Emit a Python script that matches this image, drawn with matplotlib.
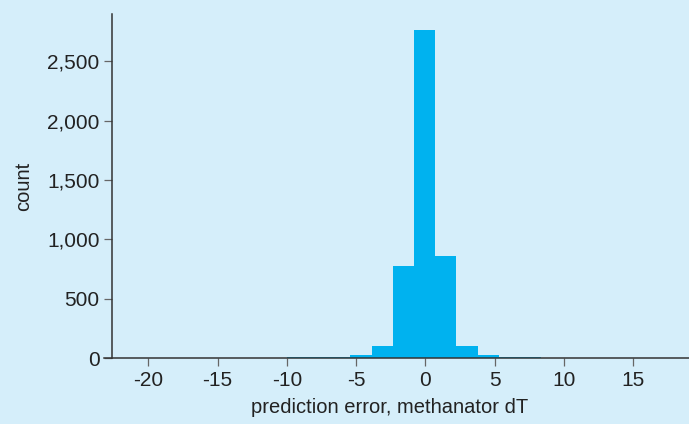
import numpy as np
import matplotlib.pyplot as plt

# histogram of prediction errors
bin_edges = [-9.99, -8.46, -6.93, -5.41, -3.88, -2.35, -0.82, 0.71, 2.24, 3.77, 5.29, 6.82, 8.35]
counts = [8, 6, 9, 25, 101, 775, 2762, 858, 101, 25, 9, 6]

x_ticks = [-20, -15, -10, -5, 0, 5, 10, 15]
y_ticks = [0, 500, 1000, 1500, 2000, 2500]
y_tick_labels = ["0", "500", "1,000", "1,500", "2,000", "2,500"]

bg = "#d5eefa"
bar_color = "#00b2ef"
axis_color = "#333333"

plt.rcParams['font.family'] = ['Liberation Sans', 'DejaVu Sans']
plt.rcParams['axes.unicode_minus'] = False

W, H = 689, 424
fig = plt.figure(figsize=(W / 100, H / 100), dpi=100, facecolor=bg)
ax = fig.add_axes([104 / W, (H - 358) / H, 1 - 104 / W, (358 - 14) / H])
ax.set_facecolor(bg)

edges = np.array(bin_edges)
ax.bar(edges[:-1], counts, width=np.diff(edges), align='edge',
       color=bar_color, edgecolor='none', linewidth=0)

ax.set_xlim(-23.2, 19.04)
ax.set_ylim(0, 2898)

for s in ['top', 'right']:
    ax.spines[s].set_visible(False)
ax.spines['left'].set_position(('data', -22.6))
for s in ['left', 'bottom']:
    ax.spines[s].set_color(axis_color)
    ax.spines[s].set_linewidth(1.1)

ax.set_xticks(x_ticks)
ax.set_yticks(y_ticks)
ax.set_yticklabels(y_tick_labels)
ax.tick_params(axis='both', direction='out', length=5.8, width=0.9,
               color='#666666', labelcolor='#222222', labelsize=15, pad=3.5)

ax.set_ylabel("count", fontsize=14.5, color='#222222')
ax.yaxis.set_label_coords((33 - 104) / (W - 104), 0.5)
ax.set_xlabel("prediction error, methanator dT", fontsize=14.5, color='#222222')
ax.xaxis.set_label_coords((390 - 104) / (W - 104), -(398 - 358) / (358 - 14))

fig.savefig("out.png", dpi=100, facecolor=bg)
